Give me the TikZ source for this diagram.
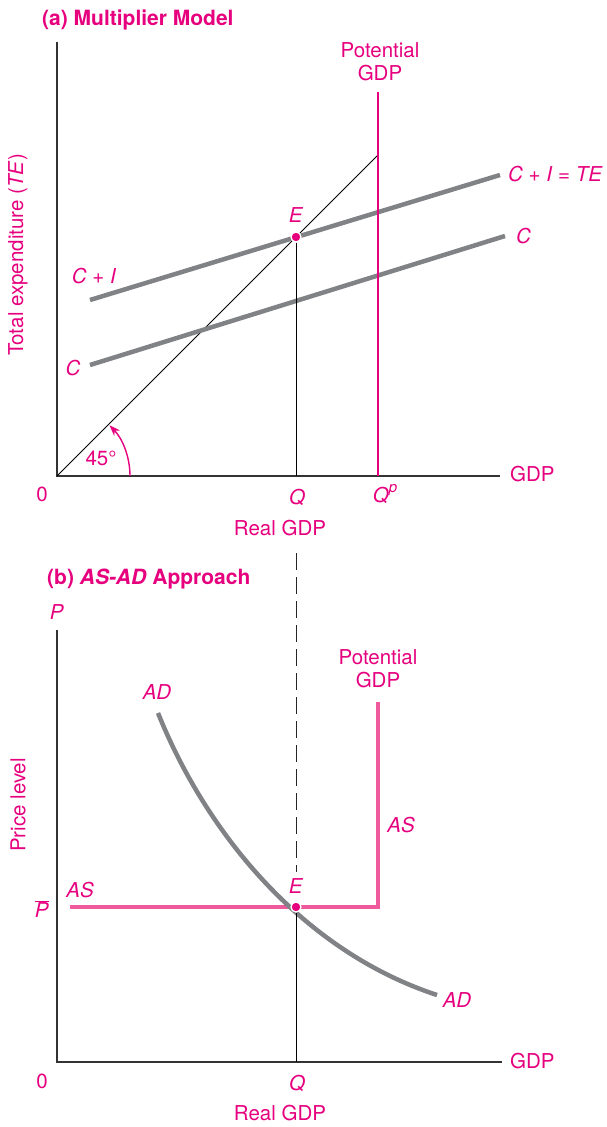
\documentclass[tikz,border=0pt]{standalone}
\usepackage{fontspec}
\setmainfont{TeX Gyre Heros}
\usetikzlibrary{arrows.meta}

\definecolor{mag}{HTML}{E6007E}
\definecolor{aspink}{HTML}{EE5A9B}
\definecolor{curvegray}{HTML}{808285}

\begin{document}
\begin{tikzpicture}[x=1pt,y=-1pt,
    lab/.style={text=mag,font=\fontsize{20.5}{23}\selectfont,inner sep=0pt},
    ttl/.style={text=mag,font=\fontsize{21}{23}\selectfont\bfseries,inner sep=0pt,anchor=west},
    axis/.style={draw=black!80,line width=1.2pt},
    thick curve/.style={draw=curvegray,line width=4.5pt},
    thin line/.style={draw=black,line width=0.9pt},
    eq dot/.style={circle,fill=mag,draw=white,line width=1.3pt,minimum size=10pt,inner sep=0pt}]
\useasboundingbox (0,0) rectangle (607,1127);

% (a) multiplier model
\node[ttl] (titleA) at (42,20) {(a) Multiplier Model};
\coordinate (Oa) at (57,476);
\coordinate (Ya) at (57,42);
\coordinate (Xa) at (500,476);
\draw[axis] (Ya) -- (Oa) -- (Xa);
\node[lab,rotate=90] (TE) at (18,255) {Total expenditure (\textit{TE})};
\node[lab] (zeroA) at (42,494) {0};
\node[lab,anchor=west] (gdpA) at (510,474) {GDP};

\coordinate (L45) at (378,155);
\draw[thin line] (Oa) -- (L45);
\coordinate (arcA) at (130,476);
\draw[mag,line width=1.4pt,-{Stealth[length=11pt,width=8pt]}] (arcA) arc[start angle=0,end angle=-44,radius=73];
\node[lab] (deg) at (101,458) {45°};

\coordinate (CIa) at (90,300);
\coordinate (CIb) at (500,175);
\coordinate (Ca) at (90,365);
\coordinate (Cb) at (505,236);
\draw[thick curve] (CIa) -- (CIb);
\draw[thick curve] (Ca) -- (Cb);
\node[lab,anchor=west] (CIlab) at (508,174) {\textit{C} + \textit{I} = \textit{TE}};
\node[lab,anchor=west] (Clab) at (516,236) {\textit{C}};
\node[lab] (CIleft) at (94,276) {\textit{C} + \textit{I}};
\node[lab] (Cleft) at (73,368) {\textit{C}};

\coordinate (Qa) at (296,476);
\coordinate (PotTop) at (378,92);
\coordinate (PotBot) at (378,476);
\draw[mag,line width=1.1pt] (PotTop) -- (PotBot);
\node[lab,align=center] (potA) at (380,62) {Potential\\GDP};

\node[eq dot] (Ea) at (296,237) {};
\draw[thin line] (Ea) -- (Qa);
\node[lab] (ElabA) at (296,215) {\textit{E}};
\node[lab] (QlabA) at (297,497) {\textit{Q}};
\node[lab] (QpA) at (385,494) {\textit{Q}\raisebox{0.5em}{\fontsize{15}{15}\selectfont\textit{p}}};
\node[lab] (realA) at (280,528) {Real GDP};

% (b) AS-AD approach
\node[ttl] (titleB) at (47,579) {(b) \textit{AS-AD} Approach};
\coordinate (Ob) at (57,1062);
\coordinate (Yb) at (57,630);
\coordinate (Xb) at (502,1062);
\draw[axis] (Yb) -- (Ob) -- (Xb);
\node[lab] (Plab) at (57,612) {\textit{P}};
\node[lab] (zeroB) at (42,1081) {0};
\node[lab,anchor=west] (gdpB) at (510,1061) {GDP};
\node[lab,rotate=90] (price) at (18,805) {Price level};

\coordinate (ASa) at (70,907);
\coordinate (ASk) at (378,907);
\coordinate (ASt) at (378,702);
\draw[aspink,line width=4.5pt,line join=miter] (ASa) -- (ASk) -- (ASt);
\node[lab,align=center] (potB) at (378,669) {Potential\\GDP};
\node[lab] (ASr) at (401,825) {\textit{AS}};
\node[lab] (ASl) at (80,890) {\textit{AS}};
\node[lab] (Pbar) at (42,909) {$\overline{\mbox{\textit{P}}}$};

\coordinate (ADa) at (158,713);
\coordinate (ADb) at (437,995);
\draw[thick curve] (ADa) .. controls (205,830) and (300,950) .. (ADb);
\node[lab] (ADtop) at (157,692) {\textit{AD}};
\node[lab] (ADbot) at (457,1000) {\textit{AD}};

\coordinate (dashTop) at (296,553);
\coordinate (dashBot) at (296,872);
\coordinate (Qb) at (296,1062);
\draw[black!85,line width=0.9pt,dash pattern=on 17pt off 7pt] (dashTop) -- (dashBot);
\node[eq dot] (Eb) at (296,907) {};
\draw[thin line] (Eb) -- (Qb);
\node[lab] (ElabB) at (296,886) {\textit{E}};
\node[lab] (QlabB) at (297,1083) {\textit{Q}};
\node[lab] (realB) at (280,1113) {Real GDP};
\end{tikzpicture}
\end{document}
